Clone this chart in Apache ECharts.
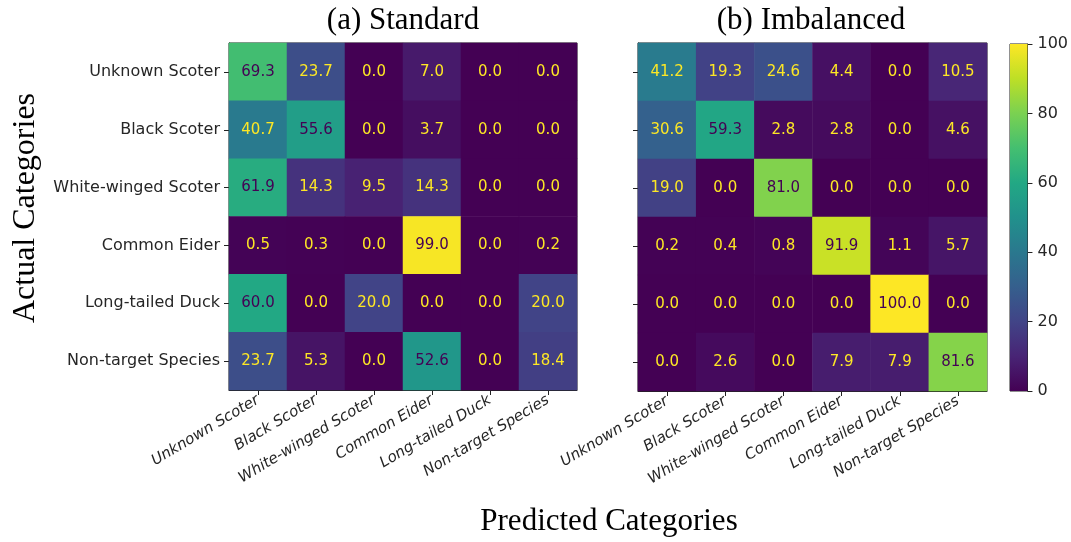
<!DOCTYPE html>
<html>
<head>
<meta charset="utf-8">
<script src="https://cdn.jsdelivr.net/npm/echarts@6/dist/echarts.min.js"></script>
<style>
  html, body { margin: 0; padding: 0; background: #fff; }
  #chart { width: 1071px; height: 542px; }
</style>
</head>
<body>
<div id="chart"></div>
<script>
// Class names shared by both confusion matrices (rows = actual, columns = predicted)
const categories = [
  'Unknown Scoter', 'Black Scoter', 'White-winged Scoter',
  'Common Eider', 'Long-tailed Duck', 'Non-target Species'
];

// Row-normalised percentages, one row per actual class
const standardMatrix = [
  [69.3, 23.7, 0.0, 7.0, 0.0, 0.0],
  [40.7, 55.6, 0.0, 3.7, 0.0, 0.0],
  [61.9, 14.3, 9.5, 14.3, 0.0, 0.0],
  [0.5, 0.3, 0.0, 99.0, 0.0, 0.2],
  [60.0, 0.0, 20.0, 0.0, 0.0, 20.0],
  [23.7, 5.3, 0.0, 52.6, 0.0, 18.4]
];

const imbalancedMatrix = [
  [41.2, 19.3, 24.6, 4.4, 0.0, 10.5],
  [30.6, 59.3, 2.8, 2.8, 0.0, 4.6],
  [19.0, 0.0, 81.0, 0.0, 0.0, 0.0],
  [0.2, 0.4, 0.8, 91.9, 1.1, 5.7],
  [0.0, 0.0, 0.0, 0.0, 100.0, 0.0],
  [0.0, 2.6, 0.0, 7.9, 7.9, 81.6]
];

const panelTitles = ['(a) Standard', '(b) Imbalanced'];
const colorbarTicks = [0, 20, 40, 60, 80, 100];

const viridis = ['#440154', '#482475', '#414487', '#355f8d', '#2a788e',
  '#21918c', '#22a884', '#44bf70', '#7ad151', '#bddf26', '#fde725'];

const textDark = '#262626';
const labelFont = 'DejaVu Sans';

// Convert a matrix to heatmap items; text turns dark on bright cells
function toHeatmap(matrix) {
  let max = -Infinity, min = Infinity;
  matrix.forEach(r => r.forEach(v => { max = Math.max(max, v); min = Math.min(min, v); }));
  const thresh = (max + min) / 2;
  const out = [];
  matrix.forEach((row, i) => {
    row.forEach((v, j) => {
      out.push({
        value: [j, i, v],
        label: { color: v < thresh ? '#fde725' : '#440154' }
      });
    });
  });
  return out;
}

const grids = [
  { left: 229, top: 43, width: 348, height: 347 },
  { left: 638, top: 43, width: 349, height: 348 },
  { left: 1010, top: 44, width: 19, height: 347 }
];

function catX(gridIndex) {
  return {
    type: 'category', gridIndex, data: categories, position: 'bottom',
    axisLine: { show: true, lineStyle: { color: '#222', width: 1 } },
    axisTick: { show: true, alignWithLabel: true, length: 5, lineStyle: { color: '#222' } },
    axisLabel: {
      rotate: 31, interval: 0, fontFamily: labelFont, fontSize: 15,
      fontStyle: 'italic', color: textDark, margin: 9
    },
    splitLine: { show: false }
  };
}

function catY(gridIndex, showLabels) {
  return {
    type: 'category', gridIndex, data: categories, inverse: true,
    axisLine: { show: true, lineStyle: { color: '#222', width: 1 } },
    axisTick: { show: true, alignWithLabel: true, length: 5, lineStyle: { color: '#222' } },
    axisLabel: {
      show: showLabels, interval: 0, fontFamily: labelFont, fontSize: 16,
      color: textDark, margin: 9
    },
    splitLine: { show: false }
  };
}

const cellLabel = {
  show: true, fontFamily: labelFont, fontSize: 15,
  formatter: p => p.value[2].toFixed(1)
};

const colorStops = viridis.map((c, i) => ({ offset: 1 - i / (viridis.length - 1), color: c }));

const option = {
  backgroundColor: '#fff',
  animation: false,
  grid: grids.map(g => Object.assign({ show: true, borderColor: '#222', borderWidth: 1, backgroundColor: 'transparent' }, g)),
  xAxis: [
    catX(0),
    catX(1),
    { type: 'category', gridIndex: 2, data: ['scale'], show: false }
  ],
  yAxis: [
    catY(0, true),
    catY(1, false),
    {
      type: 'value', gridIndex: 2, position: 'right', min: 0, max: 100, interval: 20,
      axisLine: { show: true, lineStyle: { color: '#222' } },
      axisTick: { show: true, length: 5, lineStyle: { color: '#222' } },
      axisLabel: {
        fontFamily: labelFont, fontSize: 16, color: textDark, margin: 10,
        formatter: v => colorbarTicks.includes(v) ? String(v) : ''
      },
      splitLine: { show: false }
    }
  ],
  visualMap: {
    show: false, type: 'continuous', min: 0, max: 100, dimension: 2,
    seriesIndex: [0, 1], inRange: { color: viridis }
  },
  series: [
    {
      type: 'heatmap', xAxisIndex: 0, yAxisIndex: 0,
      data: toHeatmap(standardMatrix), label: cellLabel,
      itemStyle: { borderWidth: 0 },
      emphasis: { disabled: true }
    },
    {
      type: 'heatmap', xAxisIndex: 1, yAxisIndex: 1,
      data: toHeatmap(imbalancedMatrix), label: cellLabel,
      itemStyle: { borderWidth: 0 },
      emphasis: { disabled: true }
    },
    {
      // colour bar drawn as a single full-height bar with the viridis ramp
      type: 'bar', xAxisIndex: 2, yAxisIndex: 2, barWidth: '100%',
      data: [colorbarTicks[colorbarTicks.length - 1]],
      itemStyle: { color: { type: 'linear', x: 0, y: 0, x2: 0, y2: 1, colorStops } },
      silent: true
    }
  ],
  graphic: [
    {
      type: 'text',
      style: { text: panelTitles[0], font: '31px "Liberation Serif"', fill: '#000', align: 'center', verticalAlign: 'middle' },
      x: 403, y: 21
    },
    {
      type: 'text',
      style: { text: panelTitles[1], font: '31px "Liberation Serif"', fill: '#000', align: 'center', verticalAlign: 'middle' },
      x: 811, y: 21
    },
    {
      type: 'text',
      style: { text: 'Actual Categories', font: '32px "Liberation Serif"', fill: '#000', align: 'center', verticalAlign: 'middle' },
      x: 26, y: 208, rotation: Math.PI / 2
    },
    {
      type: 'text',
      style: { text: 'Predicted Categories', font: '31px "Liberation Serif"', fill: '#000', align: 'center', verticalAlign: 'middle' },
      x: 609, y: 522
    }
  ]
};

const chart = echarts.init(document.getElementById('chart'), null, { renderer: 'canvas' });
chart.setOption(option);
</script>
</body>
</html>
